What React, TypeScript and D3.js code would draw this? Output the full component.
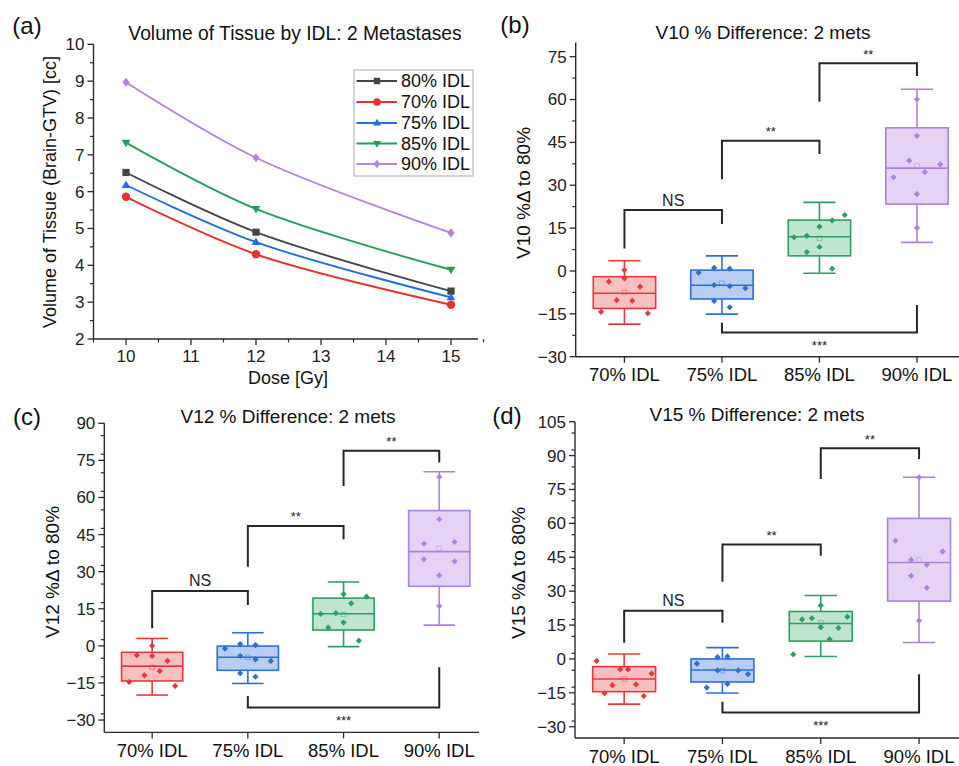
import React from "react";
import * as d3 from "d3";

// ---------- Panel (a) data ----------
const doses = [10, 12, 15];
const seriesNames = ["80% IDL", "70% IDL", "75% IDL", "85% IDL", "90% IDL"];
const vol80 = [6.52, 4.9, 3.3];
const vol70 = [5.86, 4.3, 2.93];
const vol75 = [6.18, 4.63, 3.13];
const vol85 = [7.33, 5.53, 3.88];
const vol90 = [8.97, 6.92, 4.88];
const volTicks = [2, 3, 4, 5, 6, 7, 8, 9, 10];
const doseTicks = [10, 11, 12, 13, 14, 15];

// ---------- Box panels data ----------
const boxCategories = ["70% IDL", "75% IDL", "85% IDL", "90% IDL"];
// [lowerWhisker, q1, median, q3, upperWhisker, mean]
const v10Stats = [
  [-18.6, -13.1, -7.8, -2.0, 3.6, -7.5],
  [-15.1, -9.8, -5.0, 0.3, 5.3, -4.3],
  [-0.8, 5.3, 12.0, 17.8, 24.0, 11.4],
  [10.0, 23.4, 36.0, 50.1, 63.6, 36.8],
];
const v12Stats = [
  [-19.9, -14.2, -8.2, -2.6, 3.0, -8.7],
  [-15.2, -9.9, -4.6, -0.1, 5.3, -4.6],
  [-0.3, 6.4, 13.0, 19.3, 25.8, 12.7],
  [8.4, 24.1, 38.1, 54.7, 70.4, 39.4],
];
const v15Stats = [
  [-20.0, -14.5, -8.9, -3.4, 2.2, -8.9],
  [-15.1, -10.2, -4.9, 0.0, 5.0, -5.2],
  [1.1, 7.9, 15.7, 21.0, 28.1, 16.0],
  [7.3, 25.6, 42.7, 62.2, 80.4, 43.8],
];
// points: [jitter offset (category units), value]
const v10Points = [
  [[0, 0.3], [0, -2.6], [-0.16, -3.75], [0.16, -5.5], [-0.08, -10.2], [0.08, -10.4], [-0.24, -14.3], [0.24, -14.8]],
  [[-0.24, -0.6], [-0.08, 1.1], [0.08, 0.8], [-0.08, -4.9], [0.08, -5.3], [0.24, -6.0], [-0.08, -10.5], [0.08, -12.7]],
  [[-0.26, 11.8], [-0.13, 12.3], [0, 15.5], [0.13, 17.7], [0.26, 19.6], [-0.13, 6.6], [0, 8.4], [0.13, 0.8]],
  [[0, 60.1], [0, 47.3], [-0.08, 38.6], [0.24, 37.3], [-0.24, 32.8], [0.08, 34.6], [0, 26.9], [0, 15.1]],
];
const v12Points = [
  [[0, 0.0], [-0.16, -3.8], [0, -4.1], [0.16, -6.1], [0.08, -10.2], [-0.08, -11.9], [-0.24, -14.6], [0.24, -16.2]],
  [[-0.08, 0.7], [0.08, 0.3], [-0.24, -1.1], [-0.08, -4.1], [0.08, -5.5], [0.24, -6.1], [-0.08, -11.1], [0.08, -12.5]],
  [[0, 21.0], [0.24, 19.9], [0.08, 17.2], [-0.24, 12.9], [-0.08, 13.2], [0, 9.4], [-0.16, 7.4], [0.16, 2.1]],
  [[0, 68.3], [0, 51.2], [-0.16, 41.3], [0.16, 42.0], [-0.16, 35.0], [0.16, 34.2], [0, 28.5], [0, 16.1]],
];
const v15Points = [
  [[-0.28, -0.9], [-0.04, -4.6], [0.04, -4.6], [0.28, -6.5], [-0.12, -11.6], [0.12, -11.3], [-0.2, -15.2], [0.2, -16.4]],
  [[-0.05, 0.8], [0.05, 1.1], [-0.26, -2.1], [-0.05, -5.1], [0.16, -5.1], [0.26, -6.7], [0.05, -11.1], [-0.16, -12.7]],
  [[0, 23.7], [0.27, 18.7], [-0.19, 17.5], [-0.09, 18.0], [0, 14.0], [0.18, 13.7], [0.09, 8.7], [-0.28, 2.0]],
  [[0, 80.4], [-0.24, 52.3], [0.24, 47.6], [-0.08, 43.8], [0.08, 41.7], [-0.08, 36.8], [0.08, 31.5], [0, 16.9]],
];
// brackets: [fromCategory, toCategory, barValue, fromEndValue, toEndValue, label]
const v10Brackets: [number, number, number, number, number, string][] = [
  [1, 2, 21.3, 7.9, 16.4, "NS"],
  [2, 3, 45.6, 32.1, 40.9, "**"],
  [3, 4, 72.7, 59.2, 68.2, "**"],
  [2, 4, -21.5, -18.1, -11.9, "***"],
];
const v12Brackets: [number, number, number, number, number, string][] = [
  [1, 2, 22.2, 7.1, 16.5, "NS"],
  [2, 3, 48.5, 32.0, 43.1, "**"],
  [3, 4, 78.9, 64.6, 74.1, "**"],
  [2, 4, -24.9, -20.3, -8.7, "***"],
];
const v15Brackets: [number, number, number, number, number, string][] = [
  [1, 2, 21.3, 7.2, 16.0, "NS"],
  [2, 3, 50.7, 34.2, 45.7, "**"],
  [3, 4, 93.2, 79.6, 88.5, "**"],
  [2, 4, -23.7, -18.9, -6.8, "***"],
];
const v10Ticks = [-30, -15, 0, 15, 30, 45, 60, 75];
const v12Ticks = [-30, -15, 0, 15, 30, 45, 60, 75, 90];
const v15Ticks = [-30, -15, 0, 15, 30, 45, 60, 75, 90, 105];

// ---------- styles ----------
const FONT = '"Liberation Sans", Arial, Helvetica, sans-serif';
const AX = "#2a2a2a";
const lineColors = ["#454545", "#e8322e", "#1f6fdc", "#22a05a", "#b581e3"];
const lineMarkers = ["square", "circle", "triangle", "triangleDown", "diamond"];
const boxStroke = ["#e8383d", "#2b6fd6", "#2ba062", "#b07fe0"];
const boxFill = ["#f5b5b6", "#aac6f0", "#b5e0c6", "#e0cbf5"];

function Marker({ type, cx, cy, color, s = 3.6 }: any) {
  if (type === "square") return <rect x={cx - s} y={cy - s} width={2 * s} height={2 * s} fill={color} />;
  if (type === "circle") return <circle cx={cx} cy={cy} r={s + 0.6} fill={color} />;
  if (type === "triangle")
    return <path d={`M${cx},${cy - s - 1}L${cx + s + 0.8},${cy + s * 0.8}L${cx - s - 0.8},${cy + s * 0.8}Z`} fill={color} />;
  if (type === "triangleDown")
    return <path d={`M${cx},${cy + s + 1}L${cx + s + 0.8},${cy - s * 0.8}L${cx - s - 0.8},${cy - s * 0.8}Z`} fill={color} />;
  return <path d={`M${cx},${cy - s - 1}L${cx + s},${cy}L${cx},${cy + s + 1}L${cx - s},${cy}Z`} fill={color} />;
}

function LinePanel() {
  const x = d3.scaleLinear().domain([9.5, 15.5]).range([93.5, 483.5]);
  const y = d3.scaleLinear().domain([2, 10]).range([339, 44.3]);
  const series = [vol80, vol70, vol75, vol85, vol90];
  const line = d3
    .line<number>()
    .x((_, i) => x(doses[i]))
    .y((d) => y(d))
    .curve(d3.curveCatmullRom.alpha(0.5));
  const minorY = d3.range(2.5, 10, 1);
  const minorX = d3.range(9.5, 15.6, 1);
  const legendRows = [81, 102, 123, 143.5, 164];
  return (
    <g fontFamily={FONT}>
      <text x={27} y={26} fontSize={24} textAnchor="middle" dy="0.35em" fill="#111">(a)</text>
      <text x={295} y={33} fontSize={19.3} textAnchor="middle" dy="0.35em" fill="#111">
        Volume of Tissue by IDL: 2 Metastases
      </text>
      {/* axes */}
      <line x1={x(9.5)} x2={x(9.5)} y1={y(10)} y2={y(2)} stroke={AX} strokeWidth={1.4} />
      <line x1={x(9.5)} x2={478} y1={y(2)} y2={y(2)} stroke={AX} strokeWidth={1.4} />
      {volTicks.map((t) => (
        <g key={"yt" + t}>
          <line x1={x(9.5) - 6} x2={x(9.5)} y1={y(t)} y2={y(t)} stroke={AX} strokeWidth={1.3} />
          <text x={x(9.5) - 9} y={y(t)} dy="0.35em" fontSize={17} textAnchor="end" fill="#222">{t}</text>
        </g>
      ))}
      {minorY.map((t) => (
        <line key={"ym" + t} x1={x(9.5) - 3.5} x2={x(9.5)} y1={y(t)} y2={y(t)} stroke={AX} strokeWidth={1.2} />
      ))}
      {doseTicks.map((t) => (
        <g key={"xt" + t}>
          <line x1={x(t)} x2={x(t)} y1={y(2)} y2={y(2) + 6} stroke={AX} strokeWidth={1.3} />
          <text x={x(t)} y={356} dy="0.35em" fontSize={17} textAnchor="middle" fill="#222">{t}</text>
        </g>
      ))}
      {minorX.map((t) => (
        <line key={"xm" + t} x1={x(t)} x2={x(t)} y1={y(2)} y2={y(2) + 3.5} stroke={AX} strokeWidth={1.2} />
      ))}
      <text x={288} y={378} dy="0.35em" fontSize={18} textAnchor="middle" fill="#111">Dose [Gy]</text>
      <text transform={`translate(50,192) rotate(-90)`} dy="0.35em" fontSize={18} textAnchor="middle" fill="#111">
        Volume of Tissue (Brain-GTV) [cc]
      </text>
      {/* series */}
      {series.map((vals, si) => (
        <g key={"s" + si}>
          <path d={line(vals) || ""} fill="none" stroke={lineColors[si]} strokeWidth={1.9} />
          {vals.map((v, i) => (
            <Marker key={i} type={lineMarkers[si]} cx={x(doses[i])} cy={y(v)} color={lineColors[si]} />
          ))}
        </g>
      ))}
      {/* legend */}
      <rect x={354} y={70} width={119} height={106} fill="#fff" stroke="#aaa" strokeWidth={1} />
      {seriesNames.map((n, i) => (
        <g key={"lg" + i}>
          <line x1={356.5} x2={397} y1={legendRows[i]} y2={legendRows[i]} stroke={lineColors[i]} strokeWidth={1.8} />
          <Marker type={lineMarkers[i]} cx={377} cy={legendRows[i]} color={lineColors[i]} s={3.2} />
          <text x={401} y={legendRows[i]} dy="0.35em" fontSize={18} fill="#111">{n}</text>
        </g>
      ))}
    </g>
  );
}

function BoxPanel({ letter, title, yLabel, stats, points, brackets, yDomain, yTicks, g }: any) {
  const x = d3.scaleLinear().domain([0.5, 4.5]).range([g.x0, g.x0 + 4 * g.unit]);
  const y = d3.scaleLinear().domain(yDomain).range([g.yBottom, g.yTop]);
  const bw = 0.32 * g.unit;
  const cw = 0.165 * g.unit;
  const minor = d3.range(yDomain[0], yDomain[1] + 0.01, 7.5).filter((v: number) => Math.abs(v % 15) > 0.1 && v > yDomain[0] + 0.1);
  const ax0 = x(0.5);
  const diamond = (cx: number, cy: number) => `M${cx},${cy - 3.1}L${cx + 3.1},${cy}L${cx},${cy + 3.1}L${cx - 3.1},${cy}Z`;
  return (
    <g fontFamily={FONT}>
      <text x={g.letter[0]} y={g.letter[1]} fontSize={24} textAnchor="middle" dy="0.35em" fill="#111">{letter}</text>
      <text x={g.title[0]} y={g.title[1]} fontSize={19} textAnchor="middle" dy="0.35em" fill="#111">{title}</text>
      <text transform={`translate(${g.ylab[0]},${g.ylab[1]}) rotate(-90)`} dy="0.35em" fontSize={19} textAnchor="middle" fill="#111">
        {yLabel}
      </text>
      {/* axes */}
      <line x1={ax0} x2={ax0} y1={y(yDomain[1])} y2={y(yDomain[0])} stroke={AX} strokeWidth={1.4} />
      <line x1={ax0} x2={g.axisRight} y1={y(yDomain[0])} y2={y(yDomain[0])} stroke={AX} strokeWidth={1.4} />
      {yTicks.map((t: number) => (
        <g key={"yt" + t}>
          <line x1={ax0 - 6} x2={ax0} y1={y(t)} y2={y(t)} stroke={AX} strokeWidth={1.3} />
          <text x={ax0 - 9} y={y(t)} dy="0.35em" fontSize={17} textAnchor="end" fill="#222">
            {t < 0 ? "\u2212" + Math.abs(t) : t}
          </text>
        </g>
      ))}
      {minor.map((t: number) => (
        <line key={"ym" + t} x1={ax0 - 3.5} x2={ax0} y1={y(t)} y2={y(t)} stroke={AX} strokeWidth={1.2} />
      ))}
      {boxCategories.map((c, i) => (
        <g key={"xc" + i}>
          <line x1={x(i + 1)} x2={x(i + 1)} y1={y(yDomain[0])} y2={y(yDomain[0]) + 6} stroke={AX} strokeWidth={1.3} />
          <text x={x(i + 1)} y={g.xlabY} dy="0.35em" fontSize={18.5} textAnchor="middle" fill="#111">{c}</text>
        </g>
      ))}
      {/* boxes */}
      {stats.map((s: number[], i: number) => {
        const cx = x(i + 1);
        const col = boxStroke[i];
        return (
          <g key={"b" + i}>
            <line x1={cx} x2={cx} y1={y(s[0])} y2={y(s[1])} stroke={col} strokeWidth={1.6} />
            <line x1={cx} x2={cx} y1={y(s[3])} y2={y(s[4])} stroke={col} strokeWidth={1.6} />
            <line x1={cx - cw} x2={cx + cw} y1={y(s[0])} y2={y(s[0])} stroke={col} strokeWidth={1.6} />
            <line x1={cx - cw} x2={cx + cw} y1={y(s[4])} y2={y(s[4])} stroke={col} strokeWidth={1.6} />
            <rect x={cx - bw} y={y(s[3])} width={2 * bw} height={y(s[1]) - y(s[3])} fill={boxFill[i]} fillOpacity={0.85} stroke={col} strokeWidth={1.6} />
            <line x1={cx - bw} x2={cx + bw} y1={y(s[2])} y2={y(s[2])} stroke={col} strokeWidth={1.6} />
            <rect x={cx - 2.3} y={y(s[5]) - 2.3} width={4.6} height={4.6} fill="none" stroke={col} strokeOpacity={0.55} strokeWidth={0.8} />
            {points[i].map((p: number[], j: number) => (
              <path key={j} d={diamond(x(i + 1 + p[0]), y(p[1]))} fill={col} />
            ))}
          </g>
        );
      })}
      {/* significance brackets */}
      {brackets.map((b: any, k: number) => {
        const [a, c, bar, ea, ec, lab] = b;
        const below = bar < ea;
        const xa = x(a), xc = x(c);
        return (
          <g key={"br" + k}>
            <path d={`M${xa},${y(ea)}V${y(bar)}H${xc}V${y(ec)}`} fill="none" stroke="#262626" strokeWidth={2} />
            <text
              x={(xa + xc) / 2}
              y={below ? y(bar) + 18 : y(bar) - 4.5}
              fontSize={lab === "NS" ? 16 : 13}
              textAnchor="middle"
              fill="#222"
            >
              {lab}
            </text>
          </g>
        );
      })}
    </g>
  );
}

export default function App() {
  const gB = { x0: 575.7, unit: 97.5, axisRight: 959, yBottom: 356.7, yTop: 42.4, letter: [515, 25], title: [763, 32], ylab: [523, 193], xlabY: 375 };
  const gC = { x0: 104.3, unit: 95.7, axisRight: 479, yBottom: 732.4, yTop: 423.3, letter: [27, 417], title: [288, 416], ylab: [52, 572], xlabY: 751 };
  const gD = { x0: 575, unit: 98.3, axisRight: 959, yBottom: 738.0, yTop: 421.7, letter: [507, 416], title: [757, 414], ylab: [518, 573], xlabY: 757 };
  return (
    <svg width={959} height={766} style={{ position: "absolute", left: 0, top: 0, background: "#fff" }}>
      <rect width={959} height={766} fill="#fff" />
      <LinePanel />
      <BoxPanel letter="(b)" title="V10 % Difference: 2 mets" yLabel="V10 %Δ to 80%" stats={v10Stats} points={v10Points}
        brackets={v10Brackets} yDomain={[-30, 80]} yTicks={v10Ticks} g={gB} />
      <BoxPanel letter="(c)" title="V12 % Difference: 2 mets" yLabel="V12 %Δ to 80%" stats={v12Stats} points={v12Points}
        brackets={v12Brackets} yDomain={[-35, 90]} yTicks={v12Ticks} g={gC} />
      <BoxPanel letter="(d)" title="V15 % Difference: 2 mets" yLabel="V15 %Δ to 80%" stats={v15Stats} points={v15Points}
        brackets={v15Brackets} yDomain={[-35, 105]} yTicks={v15Ticks} g={gD} />
    </svg>
  );
}
